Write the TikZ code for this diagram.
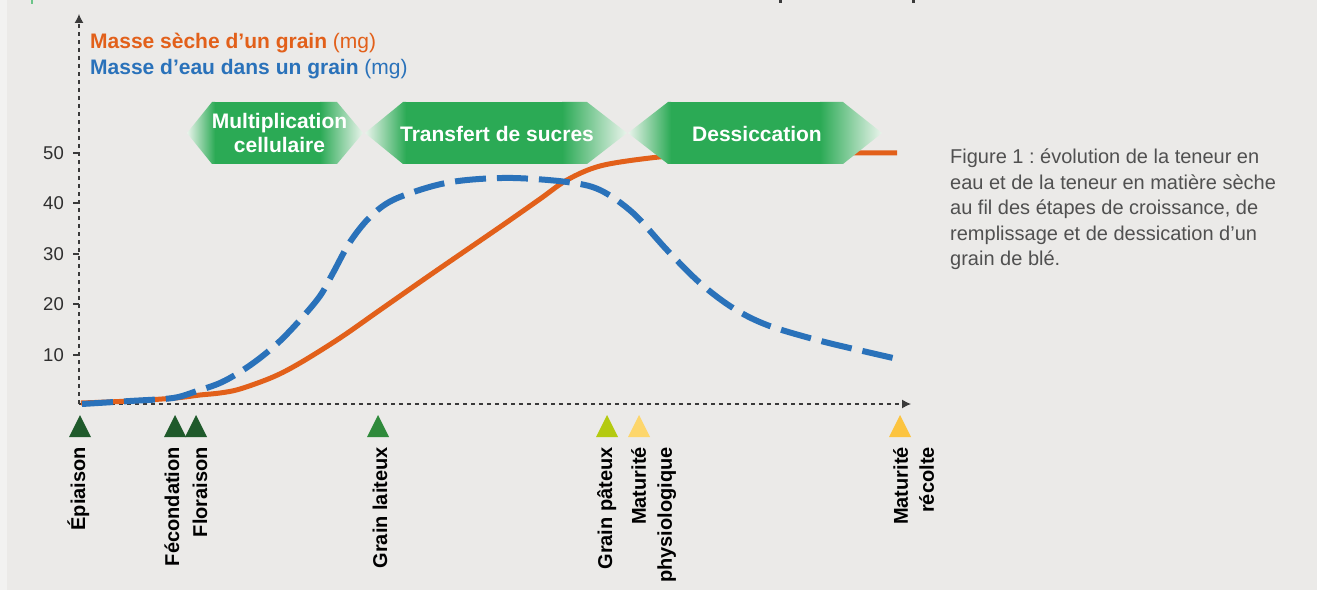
\documentclass[tikz,border=0pt]{standalone}
\usepackage{fontspec}
\setmainfont{Liberation Sans}
\usetikzlibrary{arrows.meta}
\frenchspacing
\definecolor{bggrey}{HTML}{EBEAE8}
\definecolor{stripgrey}{HTML}{F2F2F1}
\definecolor{axisgrey}{HTML}{3A3A3A}
\definecolor{textgrey}{HTML}{2E2E2E}
\definecolor{capgrey}{HTML}{505050}
\definecolor{dryorange}{HTML}{E2601A}
\definecolor{waterblue}{HTML}{2A72BA}
\definecolor{phasegreen}{HTML}{2BAA55}
\definecolor{phasepale}{HTML}{EAF4EC}
\definecolor{stagedark}{HTML}{1F5A2B}
\definecolor{stagemid}{HTML}{2F8A3B}
\definecolor{stagelime}{HTML}{B4CA10}
\definecolor{stagepale}{HTML}{FDD66B}
\definecolor{stagegold}{HTML}{FCC43F}
% phase banner: left tip, left corner, left fade end, right fade start, right corner, right tip
\newcommand{\phasebanner}[6]{%
  \shade[left color=phasepale,right color=phasegreen] (#1,133) -- (#2,102) -- (#3,102) -- (#3,164) -- (#2,164) -- cycle;
  \fill[phasegreen] (#3-0.5,102) rectangle (#4+0.5,164);
  \shade[left color=phasegreen,right color=phasepale] (#4,102) -- (#5,102) -- (#6,133) -- (#5,164) -- (#4,164) -- cycle;
}
\begin{document}
\begin{tikzpicture}[x=1bp,y=-1bp,>={Latex[length=9bp,width=9bp]},line join=bevel,
  axis/.style={draw=axisgrey,line width=1.2bp,dash pattern=on 4bp off 4bp},
  ticklbl/.style={anchor=east,inner sep=0pt,text=textgrey,font=\fontsize{18.5bp}{22bp}\selectfont},
  phaselbl/.style={inner sep=0pt,text=white,align=center,font=\fontsize{21bp}{24bp}\selectfont\bfseries},
  stagelbl/.style={rotate=90,inner sep=0pt,text=black,font=\fontsize{20bp}{26bp}\selectfont\bfseries},
  drymass/.style={draw=dryorange,line width=5bp},
  watermass/.style={draw=waterblue,line width=6bp,dash pattern=on 31bp off 11bp},
]
%%
\fill[bggrey] (0,0) rectangle (1317,590);
\fill[stripgrey] (0,0) rectangle (7,590);
\useasboundingbox (0,0) rectangle (1317,590);
% cut heading bits
\fill[phasegreen!70!white] (31.3,0) rectangle (32.7,4);
\fill[axisgrey] (779,0) rectangle (782,3);
\fill[axisgrey] (912,0) rectangle (915,3);
%
\coordinate (origin) at (79,404);
\coordinate (ytop) at (79,14);
\coordinate (xend) at (911,404);
\draw[axis,->] (origin) -- (ytop);
\draw[axis,->] (origin) -- (xend);
\foreach \v/\yy in {10/355,20/304,30/254,40/203,50/153} {
  \draw[axisgrey,line width=1.2bp] (73,\yy) -- (79,\yy);
  \node[ticklbl] (tick\v) at (64,\yy) {\v};
}
%
\node[anchor=base west,inner sep=0pt,font=\fontsize{21bp}{25bp}\selectfont,text=dryorange] (leg_dry) at (90,49) {\textbf{Masse sèche d’un grain} (mg)};
\node[anchor=base west,inner sep=0pt,font=\fontsize{21bp}{25bp}\selectfont,text=waterblue] (leg_water) at (90,75) {\textbf{Masse d’eau dans un grain} (mg)};
%
\draw[drymass] plot[smooth,tension=0.55] coordinates {(81,403) (130,401) (175,398) (200,395) (220,393) (240,389) (273,377) (300,363) (340,338) (380,310) (433,273) (500,227) (540,199) (567,180) (600,166) (650,158) (700,154) (760,153) (897,153)};
\draw[watermass] plot[smooth,tension=0.55] coordinates {(82,404) (130,401) (173,398) (197,391) (220,383) (240,372) (260,358) (280,341) (300,320) (320,296) (333,273) (350,242) (370,217) (393,200) (433,186) (467,180) (513,178) (567,182) (600,190) (633,213) (667,250) (700,283) (733,308) (767,325) (817,340) (867,352) (902,360)};
%
\phasebanner{187}{212}{215}{320}{337}{363}
\phasebanner{365}{403}{406}{562}{587}{627}
\phasebanner{628}{668}{671}{820}{843}{882}
\node[phaselbl] (ph_mult) at (279.5,133.4) {Multiplication\\cellulaire};
\node[phaselbl,anchor=base] (ph_sugar) at (497,142) {Transfert de sucres};
\node[phaselbl,anchor=base] (ph_dry) at (757,142) {Dessiccation};
%
\foreach \x/\c in {80/stagedark,175/stagedark,196/stagedark,378/stagemid,607/stagelime,639/stagepale,900/stagegold} {
  \fill[\c] (\x-11,437) -- (\x+11,437) -- (\x,415) -- cycle;
}
\node[stagelbl,anchor=base east] (st_epi) at (85,447) {Épiaison};
\node[stagelbl,anchor=base east] (st_fec) at (179,447) {Fécondation};
\node[stagelbl,anchor=base east] (st_flo) at (207,447) {Floraison};
\node[stagelbl,anchor=base east] (st_lait) at (387,447) {Grain laiteux};
\node[stagelbl,anchor=base east] (st_pat) at (612,447) {Grain pâteux};
\node[stagelbl,anchor=north east,align=right] (st_phys) at (631,447) {Maturité\\physiologique};
\node[stagelbl,anchor=north east,align=right] (st_rec) at (893,447) {Maturité\\récolte};
%
\node[anchor=north west,inner sep=0pt,align=left,text=capgrey,font=\fontsize{20bp}{25.5bp}\selectfont] (caption) at (950,149) {Figure 1 : évolution de la teneur en\\eau et de la teneur en matière sèche\\au fil des étapes de croissance, de\\remplissage et de dessication d’un\\grain de blé.};
%
\end{tikzpicture}
\end{document}
